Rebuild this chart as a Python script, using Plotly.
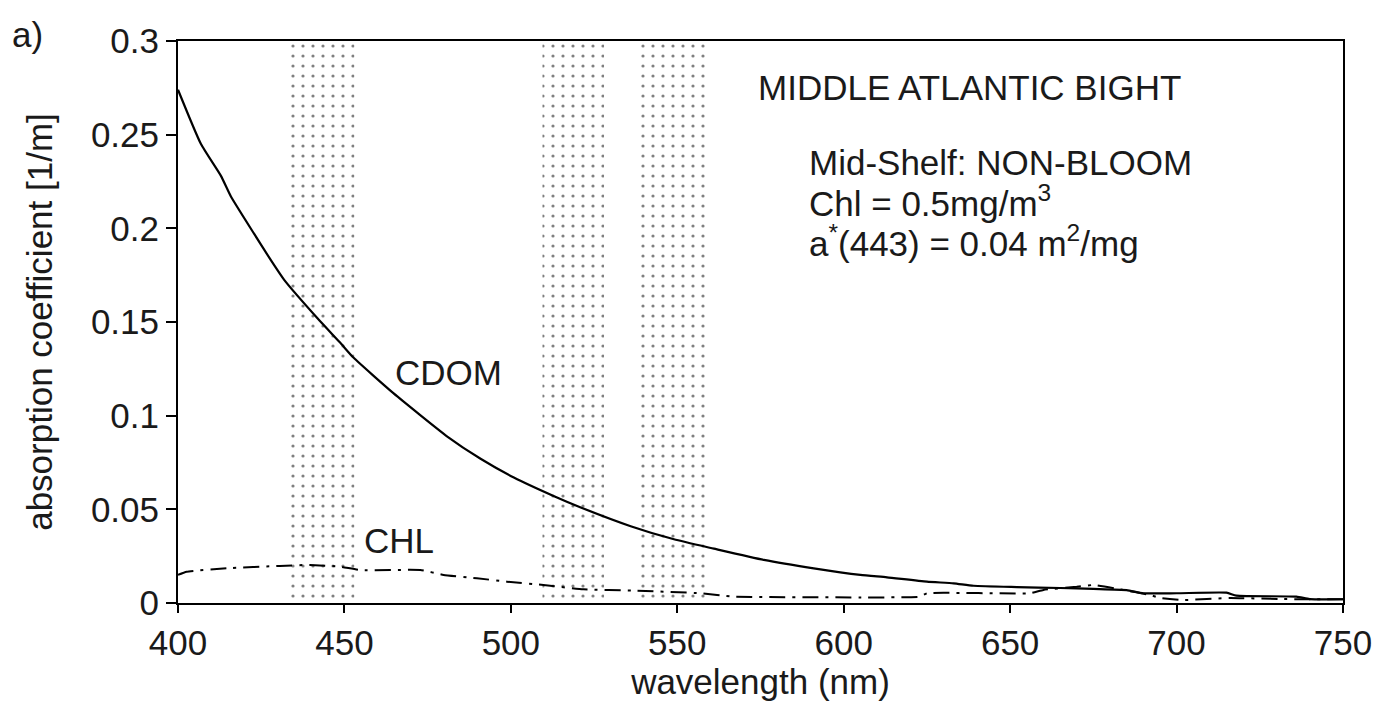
import plotly.graph_objects as go

# ---- data ----
cdom_wl = [400, 406.9, 412.9, 415.9, 422.9, 427.9, 431.9, 441.9, 448.7, 452.7, 464.7, 480.8,
           490.9, 500.9, 513, 521, 536, 549, 561, 576, 591, 605, 613, 625, 633, 639, 652,
           665, 675, 685, 690, 700, 715, 718, 736, 740, 750]
cdom = [0.274, 0.245, 0.228, 0.217, 0.197, 0.183, 0.1725, 0.152, 0.139, 0.131, 0.112, 0.089,
        0.077, 0.067, 0.057, 0.051, 0.041, 0.034, 0.029, 0.023, 0.0185, 0.015, 0.0137, 0.0114,
        0.0105, 0.0092, 0.0085, 0.008, 0.0075, 0.0069, 0.0052, 0.0052, 0.0055, 0.0039, 0.0034,
        0.0021, 0.002]

chl_wl = [400, 402.6, 414.6, 430.6, 439.6, 448.7, 454.7, 472.8, 479.8, 489.8, 498.8, 509.8,
          521.8, 536.8, 556.9, 566.9, 605, 623, 625, 656, 660, 670, 675, 684, 692, 695, 702,
          716, 732, 750]
chl = [0.015, 0.0167, 0.0185, 0.0198, 0.0203, 0.0194, 0.0176, 0.0176, 0.015, 0.0132, 0.0114,
       0.0096, 0.0073, 0.0066, 0.0052, 0.0034, 0.003, 0.0034, 0.0052, 0.0052, 0.007, 0.0087,
       0.0096, 0.007, 0.0043, 0.0027, 0.0016, 0.0027, 0.0021, 0.002]

band_start = [433, 509.5, 539]
band_end = [453, 528, 558.5]
band_top = 0.3

x_ticks = [400, 450, 500, 550, 600, 650, 700, 750]
y_ticks = [0, 0.05, 0.1, 0.15, 0.2, 0.25, 0.3]
y_tick_labels = ["0", "0.05", "0.1", "0.15", "0.2", "0.25", "0.3"]

FONT = "Liberation Sans"
INK = "#1a1a1a"
FS = 35

fig = go.Figure()

# stippled bands
for s, e in zip(band_start, band_end):
    fig.add_trace(go.Scatter(
        x=[s, e, e, s, s], y=[0, 0, band_top, band_top, 0],
        mode="lines", line=dict(width=0), fill="toself",
        fillcolor="rgba(0,0,0,0)",
        fillpattern=dict(shape=".", fgcolor="#000000", bgcolor="white",
                         size=10, solidity=0.08),
        hoverinfo="skip", showlegend=False))

fig.add_trace(go.Scatter(x=cdom_wl, y=cdom, mode="lines",
                         line=dict(color="black", width=2.2, shape="spline", smoothing=0.5),
                         showlegend=False))
fig.add_trace(go.Scatter(x=chl_wl, y=chl, mode="lines",
                         line=dict(color="black", width=2, dash="16px,7px,3px,7px",
                                   shape="spline", smoothing=0.4),
                         showlegend=False))

ann_font = dict(family=FONT, size=FS, color=INK)
annotations = [
    dict(x=573.5, y=0.275, text="MIDDLE ATLANTIC BIGHT"),
    dict(x=589, y=0.235, text="Mid-Shelf: NON-BLOOM"),
    dict(x=589, y=0.2145, text="Chl = 0.5mg/m<sup>3</sup>"),
    dict(x=589, y=0.1935, text="a<sup>*</sup>(443) = 0.04 m<sup>2</sup>/mg"),
    dict(x=464.5, y=0.123, text="CDOM"),
    dict(x=455.3, y=0.0336, text="CHL"),
]
for a in annotations:
    fig.add_annotation(xref="x", yref="y", xanchor="left", yanchor="middle",
                       showarrow=False, font=ann_font, **a)
fig.add_annotation(xref="paper", yref="paper", x=-0.144, y=1.012, text="a)",
                   xanchor="left", yanchor="middle", showarrow=False, font=ann_font)

fig.update_layout(
    width=1390, height=700,
    margin=dict(l=170, r=55, t=33, b=105),
    paper_bgcolor="white", plot_bgcolor="white",
    font=dict(family=FONT, size=FS, color=INK),
    xaxis=dict(range=[400, 750], tickvals=x_ticks, ticks="outside", ticklen=8,
               tickwidth=1.5, tickcolor="black", showline=True, linecolor="black",
               linewidth=2, mirror=True, showgrid=False, zeroline=False,
               title=dict(text="wavelength (nm)", font=dict(family=FONT, size=FS, color=INK),
                          standoff=0),
               tickfont=dict(family=FONT, size=FS, color=INK)),
    yaxis=dict(range=[0, 0.3], tickvals=y_ticks, ticktext=y_tick_labels, ticks="outside",
               ticklen=10, tickwidth=1.5, tickcolor="black", showline=True,
               linecolor="black", linewidth=2, mirror=True, showgrid=False, zeroline=False,
               title=dict(text="absorption coefficient [1/m]",
                          font=dict(family=FONT, size=FS, color=INK), standoff=28),
               tickfont=dict(family=FONT, size=FS, color=INK)),
)

fig.write_html("out.html")
